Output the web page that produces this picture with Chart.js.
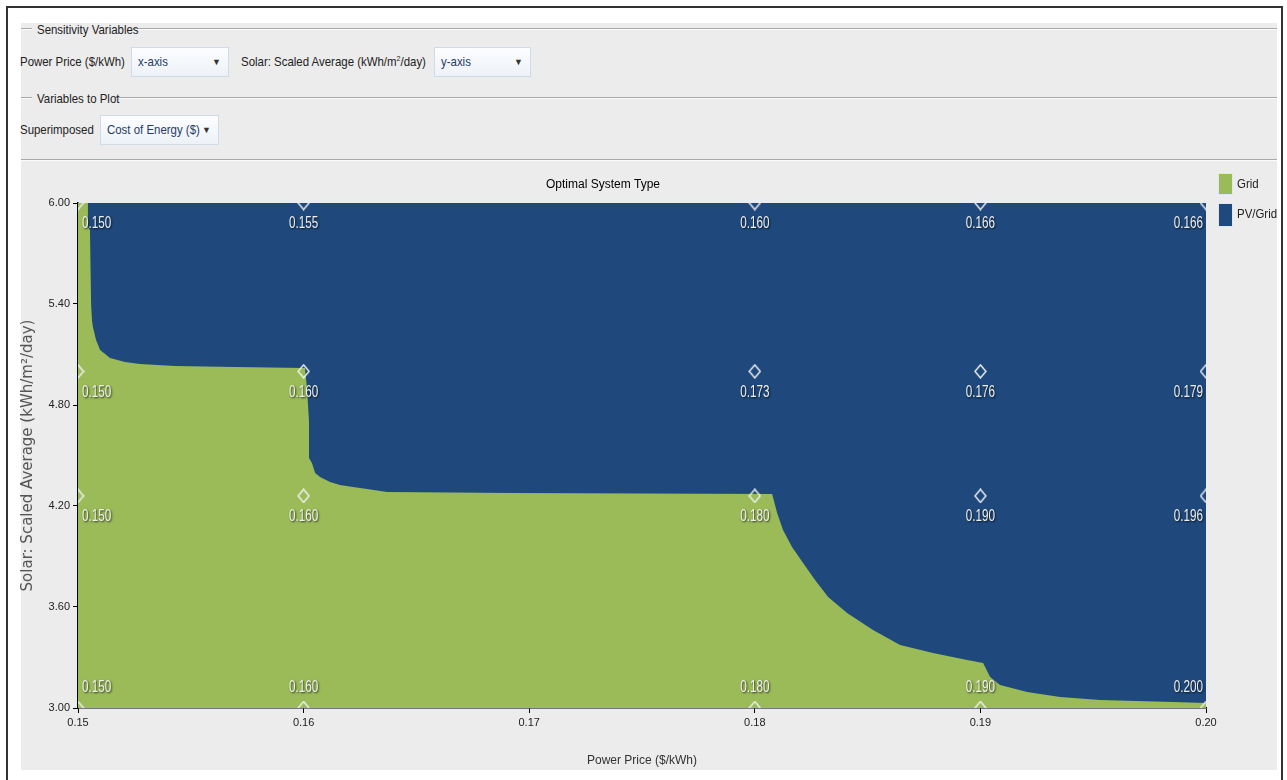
<!DOCTYPE html>
<html>
<head>
<meta charset="utf-8">
<script src="https://cdn.jsdelivr.net/npm/chart.js@4.4.1/dist/chart.umd.min.js"></script>
<style>
html,body{margin:0;padding:0;background:#fff;width:1287px;height:780px;overflow:hidden;
  font-family:'Liberation Sans',Arial,sans-serif;color:#222;}
#frame{position:absolute;left:6px;top:6px;width:1277px;height:800px;border:2px solid #333;box-sizing:border-box;}
#panel{position:absolute;left:21px;top:23px;width:1256px;height:747px;background:#ececec;}
.hl{height:1px;background:#a8a8a8;border-bottom:1px solid #fbfbfb;}
.fs{position:absolute;left:21px;width:1256px;display:flex;align-items:center;height:16px;}
.fs .txt{font-size:13px;line-height:16px;white-space:nowrap;color:#222;transform:scaleX(0.88);transform-origin:0 50%;
  display:inline-block;}
.lbl{position:absolute;font-size:13px;line-height:16px;white-space:nowrap;color:#222;transform:scaleX(0.88);transform-origin:0 50%;}
.sel{position:absolute;height:30px;border:1px solid #cfdbe7;background:linear-gradient(#fcfdff,#edf2f8);
  box-sizing:border-box;}
.sel .t{position:absolute;left:6px;top:6px;font-size:13px;line-height:16px;color:#1f3c63;white-space:nowrap;
  transform:scaleX(0.88);transform-origin:0 50%;}
.sel .arr{position:absolute;right:7px;top:8px;font-size:9px;line-height:12px;color:#333;}
#chartwrap{position:absolute;left:0;top:162px;width:1287px;height:608px;}
.sw{position:absolute;left:1218px;width:15px;height:22px;box-sizing:border-box;border:1px solid #dfe8f1;}
</style>
</head>
<body>
<div id="frame"></div>
<div id="panel"></div>

<div class="fs" style="top:21px;"><div class="hl" style="width:11px;"></div><div style="width:92px;margin-left:5px;"><span class="txt">Sensitivity Variables</span></div><div class="hl" style="flex:1;margin-left:4px;"></div></div>

<div class="lbl" style="left:20px;top:54px;">Power Price ($/kWh)</div>
<div class="sel" style="left:131px;top:47px;width:98px;"><span class="t">x-axis</span><span class="arr">&#9660;</span></div>
<div class="lbl" style="left:241px;top:54px;">Solar: Scaled Average (kWh/m<sup style="font-size:8px;line-height:0;">2</sup>/day)</div>
<div class="sel" style="left:434px;top:47px;width:97px;"><span class="t">y-axis</span><span class="arr">&#9660;</span></div>

<div class="fs" style="top:90px;"><div class="hl" style="width:11px;"></div><div style="width:74px;margin-left:5px;"><span class="txt">Variables to Plot</span></div><div class="hl" style="flex:1;margin-left:4px;"></div></div>

<div class="lbl" style="left:20px;top:122px;">Superimposed</div>
<div class="sel" style="left:100px;top:115px;width:119px;"><span class="t">Cost of Energy ($)</span><span class="arr">&#9660;</span></div>

<div class="hl" style="position:absolute;left:21px;top:159px;width:1256px;"></div>

<div id="chartwrap"><canvas id="c" width="1287" height="608"></canvas></div>

<div class="sw" style="top:173px;background:#9bbb59;"></div>
<div class="lbl" style="left:1237px;top:176px;">Grid</div>
<div class="sw" style="top:203px;height:24px;background:#1f497d;"></div>
<div class="lbl" style="left:1237px;top:206px;">PV/Grid</div>

<script>
// ---- data ----
const prices = [0.15, 0.16, 0.18, 0.19, 0.20];
const solarLevels = [6.00, 5.00, 4.26, 3.00];
const coeAtSolar600 = [0.150, 0.155, 0.160, 0.166, 0.166];
const coeAtSolar500 = [0.150, 0.160, 0.173, 0.176, 0.179];
const coeAtSolar426 = [0.150, 0.160, 0.180, 0.190, 0.196];
const coeAtSolar300 = [0.150, 0.160, 0.180, 0.190, 0.200];
const xTicks = [0.15, 0.16, 0.17, 0.18, 0.19, 0.20];
const yTicks = [3.00, 3.60, 4.20, 4.80, 5.40, 6.00];

// upper edge of the "Grid" optimal region
const gridEdgePrice = [0.15000, 0.15044, 0.15044, 0.15053, 0.15058, 0.15062, 0.15066, 0.15080, 0.15098, 0.15142,
  0.15208, 0.15275, 0.15430, 0.15696, 0.16006, 0.16015, 0.16024, 0.16024, 0.16037, 0.16051,
  0.16073, 0.16117, 0.16161, 0.16219, 0.16281, 0.16370, 0.16928, 0.18077, 0.18099, 0.18125,
  0.18165, 0.18214, 0.18267, 0.18325, 0.18409, 0.18524, 0.18644, 0.18790, 0.18941, 0.19012,
  0.19043, 0.19087, 0.19207, 0.19353, 0.19530, 0.19854, 0.20000];
const gridEdgeSolar = [6.000, 6.000, 5.857, 5.840, 5.400, 5.305, 5.263, 5.186, 5.127, 5.079,
  5.055, 5.044, 5.032, 5.026, 5.020, 4.900, 4.700, 4.485, 4.455, 4.396,
  4.372, 4.342, 4.325, 4.313, 4.301, 4.283, 4.277, 4.271, 4.158, 4.057,
  3.956, 3.861, 3.760, 3.659, 3.564, 3.463, 3.374, 3.327, 3.285, 3.267,
  3.184, 3.137, 3.095, 3.065, 3.048, 3.036, 3.030];
// upper edge of the "PV/Grid" region (whole top of the plot)
const pvGridEdgePrice = [0.15, 0.20];
const pvGridEdgeSolar = [6.00, 6.00];

// ---- build ----
const SANS = "'Liberation Sans',Arial,sans-serif";
const coeRows = [coeAtSolar600, coeAtSolar500, coeAtSolar426, coeAtSolar300];
const markerPts = [];
solarLevels.forEach((s, r) => prices.forEach((p, i) => markerPts.push({x: p, y: s, coe: coeRows[r][i]})));

const diamond = document.createElement('canvas');
diamond.width = 13; diamond.height = 15;
(function(){
  const g = diamond.getContext('2d');
  g.strokeStyle = '#f2f2f2'; g.lineWidth = 1.4;
  g.beginPath(); g.moveTo(6.5,1); g.lineTo(12,7.5); g.lineTo(6.5,14); g.lineTo(1,7.5); g.closePath(); g.stroke();
})();

const labelPlugin = {
  id: 'coeLabels',
  afterDatasetsDraw(chart) {
    const meta = chart.getDatasetMeta(2);
    const ctx = chart.ctx;
    const xs = chart.scales.x;
    const minSolar = Math.min(...solarLevels);
    ctx.save();
    ctx.font = "16px " + SANS;
    ctx.fillStyle = '#f0f0f0';
    ctx.shadowColor = 'rgba(0,0,0,0.75)';
    ctx.shadowOffsetX = 1; ctx.shadowOffsetY = 1; ctx.shadowBlur = 2;
    ctx.textBaseline = 'middle';
    meta.data.forEach((el, k) => {
      const d = markerPts[k];
      let x = el.x, y = el.y;
      if (d.x === xs.min) { ctx.textAlign = 'left'; x += 4; }
      else if (d.x === xs.max) { ctx.textAlign = 'right'; x -= 3; }
      else ctx.textAlign = 'center';
      y += (d.y === minSolar) ? -20 : 21;
      ctx.save();
      ctx.translate(x, y);
      ctx.scale(0.73, 1);
      ctx.fillText(d.coe.toFixed(3), 0, 0);
      ctx.restore();
    });
    ctx.restore();
  }
};

new Chart(document.getElementById('c'), {
  type: 'line',
  data: {
    datasets: [
      { label: 'Grid', data: gridEdgePrice.map((p, i) => ({x: p, y: gridEdgeSolar[i]})),
        backgroundColor: '#9bbb59', borderColor: '#9bbb59', borderWidth: 0, pointRadius: 0,
        fill: 'start', tension: 0, order: 1 },
      { label: 'PV/Grid', data: pvGridEdgePrice.map((p, i) => ({x: p, y: pvGridEdgeSolar[i]})),
        backgroundColor: '#1f497d', borderColor: '#1f497d', borderWidth: 0, pointRadius: 0,
        fill: 'start', tension: 0, order: 2 },
      { label: 'COE', data: markerPts, showLine: false, pointStyle: diamond, pointRadius: 7,
        clip: {left: 0, top: 0, right: 0, bottom: 0}, order: 0 }
    ]
  },
  options: {
    responsive: false, animation: false, devicePixelRatio: 1,
    layout: { padding: { left: 0, right: 81, top: 0, bottom: 0 } },
    plugins: {
      legend: { display: false },
      tooltip: { enabled: false },
      title: { display: true, text: 'Optimal System Type', color: '#000',
        font: { family: SANS, size: 12, weight: 'normal', lineHeight: 1.2 },
        padding: { top: 15.8, bottom: 10.8 } }
    },
    scales: {
      x: {
        type: 'linear', min: 0.15, max: 0.20,
        afterBuildTicks: s => { s.ticks = xTicks.map(v => ({value: v})); },
        afterFit: s => { s.height = 62; },
        ticks: { callback: v => v.toFixed(2), color: '#222', padding: 3, maxRotation: 0, autoSkip: false,
          font: { family: SANS, size: 11 } },
        grid: { drawOnChartArea: false, drawTicks: true, tickLength: 5, tickColor: '#000', color: '#000' },
        border: { display: true, color: '#000', width: 1.5 },
        title: { display: true, text: 'Power Price ($/kWh)', color: '#333',
          font: { family: SANS, size: 12, lineHeight: 1.2 }, padding: { top: 0, bottom: 1.8 } }
      },
      y: {
        type: 'linear', min: 3.0, max: 6.0,
        afterBuildTicks: s => { s.ticks = yTicks.map(v => ({value: v})); },
        afterFit: s => { s.width = 78; },
        ticks: { callback: v => v.toFixed(2), color: '#222', padding: 3, autoSkip: false,
          font: { family: SANS, size: 11 } },
        grid: { drawOnChartArea: false, drawTicks: true, tickLength: 5, tickColor: '#000', color: '#000' },
        border: { display: true, color: '#000', width: 1.5 },
        title: { display: true, text: 'Solar: Scaled Average (kWh/m²/day)', color: '#555',
          font: { family: "'DejaVu Sans',sans-serif", size: 15, lineHeight: 1.2 }, padding: { top: 19, bottom: 0 } }
      }
    }
  },
  plugins: [labelPlugin]
});
</script>
</body>
</html>
